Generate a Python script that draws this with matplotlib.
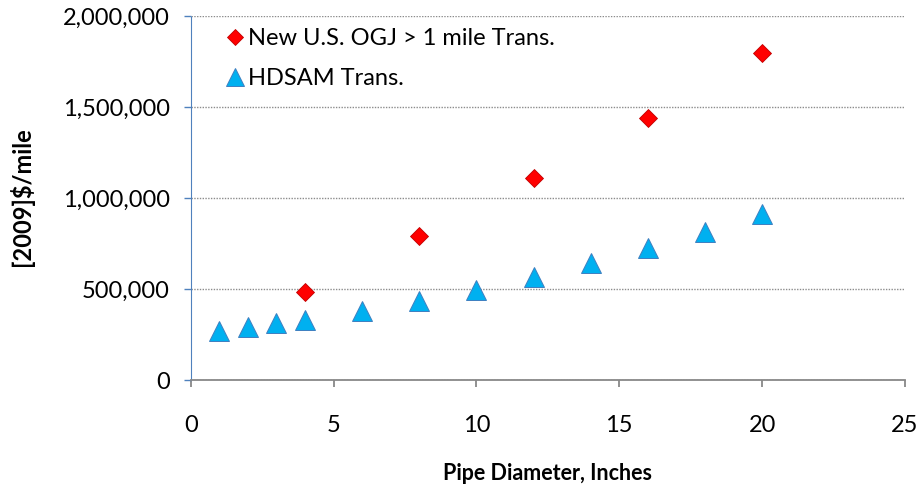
import matplotlib.pyplot as plt
from matplotlib.ticker import FuncFormatter

plt.rcParams['font.family'] = ['Lato', 'DejaVu Sans']

# pipe diameters (inches) and cost per mile
ogj_x = [4, 8, 12, 16, 20]
ogj_y = [481000, 790000, 1111000, 1442000, 1794000]
hdsam_x = [1, 2, 3, 4, 6, 8, 10, 12, 14, 16, 18, 20]
hdsam_y = [270000, 292000, 311000, 331000, 380000, 435000, 493000, 565000, 642000, 725000, 815000, 912000]

fig = plt.figure(figsize=(9.18, 4.88), dpi=100)
ax = fig.add_axes([0.2077, 0.2213, 0.7781, 0.7459])

ax.plot(ogj_x, ogj_y, linestyle='none', marker='D', markersize=9.5,
        color='#FF0000', markeredgecolor='#C00000', markeredgewidth=0.6,
        label='New U.S. OGJ > 1 mile Trans.', zorder=3)
ax.plot(hdsam_x, hdsam_y, linestyle='none', marker='^', markersize=14,
        color='#00B0F0', markeredgecolor='#3F7FC0', markeredgewidth=0.7,
        label='HDSAM Trans.', zorder=3)

ax.set_xlim(0, 25)
ax.set_ylim(0, 2000000)
ax.set_xticks(range(0, 26, 5))
ax.set_yticks(range(0, 2000001, 500000))
ax.yaxis.set_major_formatter(FuncFormatter(lambda v, p: f'{int(v):,}'))

ax.grid(axis='y', color='#8C8C8C', linestyle=(0, (1, 1)), linewidth=1)
ax.set_axisbelow(True)

for s in ['top', 'right']:
    ax.spines[s].set_visible(False)
ax.spines['left'].set_color('#4F81BD')
ax.spines['left'].set_linestyle((0, (1, 1)))
ax.spines['bottom'].set_color('#888888')
ax.spines['bottom'].set_linewidth(1.3)

ax.tick_params(axis='x', direction='out', length=5, width=1.3, color='#888888',
               labelsize=17, pad=20)
ax.tick_params(axis='y', direction='out', length=5, width=1, color='#4F81BD',
               labelsize=17, pad=10)
for t in ax.yaxis.get_ticklines():
    t.set_linestyle((0, (1, 1)))

ax.set_xlabel('Pipe Diameter, Inches', fontsize=15.5, fontweight='bold')
ax.set_ylabel('[2009]$/mile', fontsize=17, fontweight='bold')
ax.xaxis.set_label_coords(0.5, -0.228)
ax.yaxis.set_label_coords(-0.22, 0.503)

ax.legend(loc='upper left', bbox_to_anchor=(0.045, 0.966), frameon=False,
          fontsize=17, handletextpad=0.05, labelspacing=0.8, borderaxespad=0,
          borderpad=0, handlelength=1.0, markerscale=0.88)

fig.savefig('out.png', dpi=100)
